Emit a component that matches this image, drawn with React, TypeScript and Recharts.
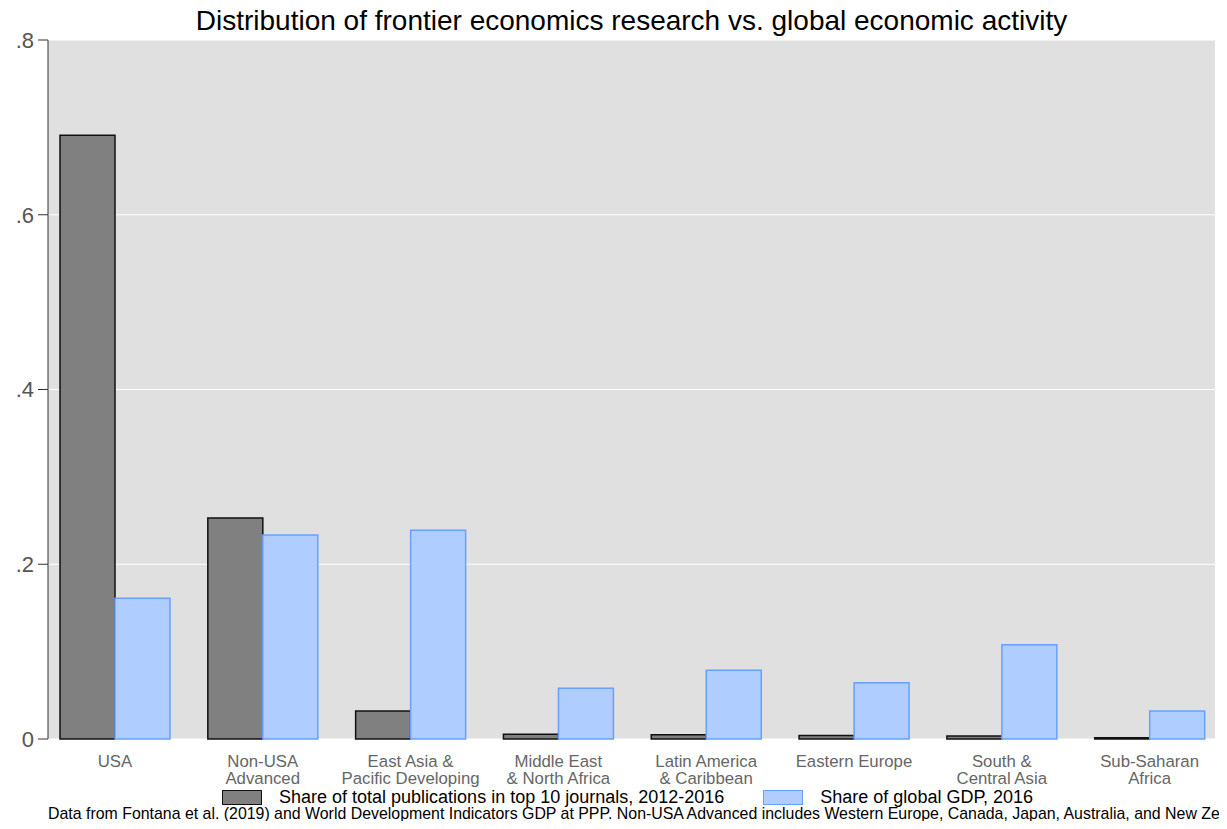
import { BarChart, Bar, XAxis, YAxis, CartesianGrid } from "recharts";

const regions = [
  "USA",
  "Non-USA|Advanced",
  "East Asia &|Pacific Developing",
  "Middle East|& North Africa",
  "Latin America|& Caribbean",
  "Eastern Europe",
  "South &|Central Asia",
  "Sub-Saharan|Africa",
];
const pubShare = [0.691, 0.253, 0.032, 0.0054, 0.005, 0.004, 0.0034, 0.0015];
const gdpShare = [0.161, 0.2335, 0.239, 0.058, 0.0786, 0.0644, 0.108, 0.032];
const yTicks = [0, 0.2, 0.4, 0.6, 0.8];

const data = regions.map((r, i) => ({ region: r, pub: pubShare[i], gdp: gdpShare[i] }));

const FONT = "'Liberation Sans', Arial, Helvetica, sans-serif";

function RegionTick(props: any) {
  const { x, y, payload } = props;
  const lines = String(payload.value).split("|");
  return (
    <text x={x} y={y} textAnchor="middle" fill="#666" fontSize={16.8} fontFamily={FONT}>
      {lines.map((l, i) => (
        <tspan key={i} x={x} y={y + 20 + i * 17}>
          {l}
        </tspan>
      ))}
    </text>
  );
}

export default function App() {
  return (
    <div
      style={{
        position: "relative",
        width: 1227,
        height: 829,
        margin: -8,
        overflow: "hidden",
        background: "#fff",
        fontFamily: FONT,
      }}
    >
      <div
        style={{
          position: "absolute",
          top: 4,
          left: 48,
          width: 1167,
          textAlign: "center",
          fontSize: 28,
          lineHeight: "34px",
          color: "#000",
        }}
      >
        Distribution of frontier economics research vs. global economic activity
      </div>
      <BarChart
        width={1227}
        height={829}
        data={data}
        margin={{ top: 40, right: 12, bottom: 60, left: 0 }}
        barGap={0}
        barSize={55}
      >
        <CartesianGrid fill="#e0e0e0" stroke="#ffffff" strokeWidth={1} vertical={false} />
        <XAxis
          dataKey="region"
          axisLine={false}
          tickLine={false}
          interval={0}
          height={30}
          padding={{ left: -7, right: -8.5 }}
          tick={<RegionTick />}
        />
        <YAxis
          width={48}
          domain={[0, 0.8]}
          ticks={yTicks}
          interval={0}
          stroke="#333"
          tickSize={10}
          tickMargin={4}
          tick={{ fill: "#555", fontSize: 22, fontFamily: FONT }}
          tickFormatter={(v: number) => (v === 0 ? "0" : String(v).replace(/^0/, ""))}
        />
        <Bar dataKey="pub" fill="#808080" stroke="#111" strokeWidth={1.5} isAnimationActive={false} />
        <Bar dataKey="gdp" fill="#b0cdff" stroke="#69a0ff" strokeWidth={1.5} isAnimationActive={false} />
      </BarChart>
      <div style={{ position: "absolute", top: 787, left: 222, display: "flex", alignItems: "center", fontSize: 18 }}>
        <span style={{ width: 38, height: 13, background: "#808080", border: "1px solid #111", display: "inline-block" }} />
        <span style={{ marginLeft: 17 }}>Share of total publications in top 10 journals, 2012-2016</span>
        <span
          style={{
            width: 38,
            height: 13,
            background: "#b0cdff",
            border: "1px solid #69a0ff",
            display: "inline-block",
            marginLeft: 39,
          }}
        />
        <span style={{ marginLeft: 17 }}>Share of global GDP, 2016</span>
      </div>
      <div
        style={{
          position: "absolute",
          top: 805,
          left: 48,
          fontSize: 15.9,
          whiteSpace: "nowrap",
        }}
      >
        Data from Fontana et al. (2019) and World Development Indicators GDP at PPP. Non-USA Advanced includes Western
        Europe, Canada, Japan, Australia, and New Zealand.
      </div>
    </div>
  );
}
